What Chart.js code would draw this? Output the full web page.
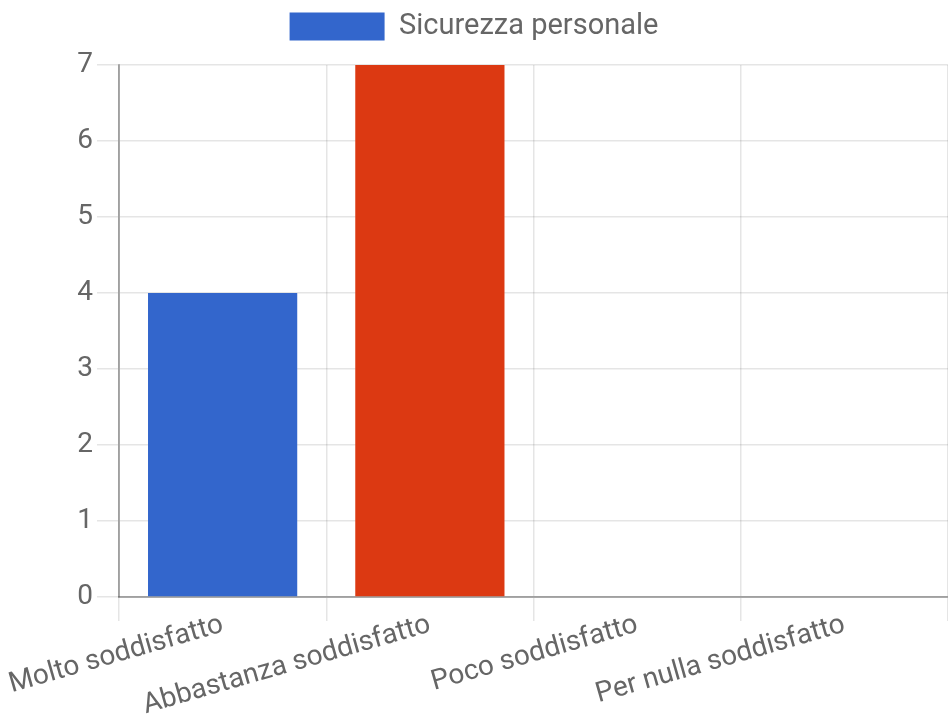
<!DOCTYPE html>
<html>
<head>
<meta charset="utf-8">
<script src="https://cdn.jsdelivr.net/npm/chart.js@4.4.1/dist/chart.umd.min.js"></script>
<style>
  html, body { margin: 0; padding: 0; background: #fff; }
  #wrap { width: 948px; height: 717px; }
</style>
</head>
<body>
<div id="wrap"><canvas id="chart"></canvas></div>
<script>
// chart data
const categories = ['Molto soddisfatto', 'Abbastanza soddisfatto', 'Poco soddisfatto', 'Per nulla soddisfatto'];
const seriesName = 'Sicurezza personale';
const values = [4, 7, 0, 0];
const barColors = ['#3366cc', '#dc3912', '#ff9900', '#109618'];
const yTicks = [0, 1, 2, 3, 4, 5, 6, 7];

const textColor = '#666';
const fontFamily = 'Roboto, "Liberation Sans", sans-serif';

// leave some room between the legend and the plot
const legendSpacer = {
    id: 'legendSpacer',
    beforeInit(chart) {
        if (!chart.legend) return;
        const fit = chart.legend.fit;
        chart.legend.fit = function () {
            fit.call(this);
            this.height += 14;
        };
    }
};

const ctx = document.getElementById('chart').getContext('2d');
new Chart(ctx, {
    type: 'bar',
    data: {
        labels: categories,
        datasets: [{
            label: seriesName,
            data: values,
            backgroundColor: barColors,
            borderWidth: 0
        }]
    },
    plugins: [legendSpacer],
    options: {
        responsive: true,
        maintainAspectRatio: false,
        animation: false,
        layout: { padding: 0 },
        plugins: {
            legend: {
                position: 'top',
                labels: {
                    boxWidth: 95,
                    boxHeight: 28,
                    padding: 12,
                    color: textColor,
                    font: { size: 29, family: fontFamily },
                    generateLabels: function (chart) {
                        const items = Chart.defaults.plugins.legend.labels.generateLabels(chart);
                        items.forEach(it => { it.fillStyle = barColors[0]; it.strokeStyle = barColors[0]; it.lineWidth = 0; });
                        return items;
                    }
                }
            },
            tooltip: { enabled: false }
        },
        scales: {
            x: {
                grid: { color: 'rgba(0,0,0,0.1)', tickLength: 24, lineWidth: 1.5 },
                border: { color: 'rgba(0,0,0,0.3)', width: 2 },
                afterFit: function (scale) {
                    scale.height = 120;
                    scale.paddingLeft = 0;
                },
                ticks: {
                    color: textColor,
                    font: { size: 28, family: fontFamily, lineHeight: 1 },
                    minRotation: 16,
                    maxRotation: 16,
                    padding: -10
                }
            },
            y: {
                min: 0,
                max: yTicks[yTicks.length - 1],
                grid: { color: 'rgba(0,0,0,0.1)', tickLength: 22, lineWidth: 1.5 },
                border: { color: 'rgba(0,0,0,0.3)', width: 2 },
                afterBuildTicks: function (axis) {
                    axis.ticks = yTicks.map(v => ({ value: v }));
                },
                afterFit: function (scale) {
                    scale.width = 119;
                },
                ticks: {
                    color: textColor,
                    font: { size: 28, family: fontFamily, lineHeight: 1 },
                    padding: 4
                }
            }
        }
    }
});
</script>
</body>
</html>
